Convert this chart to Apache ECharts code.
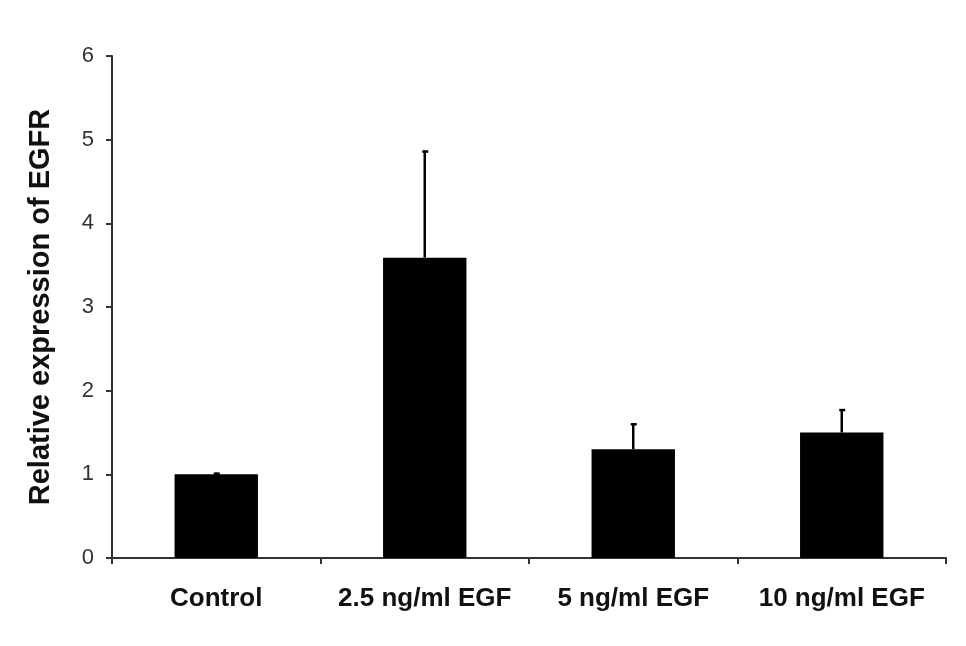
<!DOCTYPE html>
<html>
<head>
<meta charset="utf-8">
<script src="https://cdn.jsdelivr.net/npm/echarts@6/dist/echarts.min.js"></script>
<style>
html,body{margin:0;padding:0;background:#fff;}
#c{width:966px;height:646px;}
</style>
</head>
<body>
<div id="c"></div>
<script>
var categories = ['Control', '2.5 ng/ml EGF', '5 ng/ml EGF', '10 ng/ml EGF'];
var means = [1.0, 3.59, 1.3, 1.5];
var errors = [0.02, 1.28, 0.31, 0.28];
var yTicks = [0, 1, 2, 3, 4, 5, 6];

var chart = echarts.init(document.getElementById('c'), null, {renderer: 'canvas'});
var errData = categories.map(function (c, i) { return [i, means[i], means[i] + errors[i]]; });

chart.setOption({
  backgroundColor: '#ffffff',
  animation: false,
  grid: {left: 112, right: 20, top: 56, bottom: 88, containLabel: false},
  xAxis: {
    type: 'category',
    data: categories,
    boundaryGap: true,
    axisLine: {lineStyle: {color: '#333', width: 2}},
    axisTick: {show: true, length: 6, inside: false, lineStyle: {color: '#333', width: 2}},
    axisLabel: {
      color: '#111', fontFamily: 'Liberation Sans, Arial, sans-serif',
      fontWeight: 'bold', fontSize: 26, margin: 28, interval: 0
    },
    splitLine: {show: false}
  },
  yAxis: {
    type: 'value',
    min: yTicks[0], max: yTicks[yTicks.length - 1], interval: 1,
    name: 'Relative expression of EGFR',
    nameLocation: 'middle',
    nameRotate: 90,
    nameGap: 57,
    nameTextStyle: {
      color: '#111', fontFamily: 'Liberation Sans, Arial, sans-serif',
      fontWeight: 'bold', fontSize: 29
    },
    axisLine: {show: true, lineStyle: {color: '#333', width: 2}},
    axisTick: {show: true, length: 6, inside: false, lineStyle: {color: '#333', width: 2}},
    axisLabel: {
      color: '#333', fontFamily: 'Liberation Sans, Arial, sans-serif',
      fontSize: 22, margin: 18
    },
    splitLine: {show: false}
  },
  series: [
    {
      type: 'bar',
      data: means,
      barWidth: '40%',
      itemStyle: {color: '#000000'},
      z: 2
    },
    {
      type: 'custom',
      data: errData,
      z: 3,
      renderItem: function (params, api) {
        var x = api.value(0);
        var lo = api.coord([x, api.value(1)]);
        var hi = api.coord([x, api.value(2)]);
        return {
          type: 'group',
          children: [
            {type: 'line', shape: {x1: lo[0], y1: lo[1], x2: hi[0], y2: hi[1]},
             style: {stroke: '#000', lineWidth: 2.5}},
            {type: 'line', shape: {x1: hi[0] - 2.5, y1: hi[1] + 1, x2: hi[0] + 3.5, y2: hi[1] + 1},
             style: {stroke: '#000', lineWidth: 2.5}}
          ]
        };
      }
    }
  ]
});
</script>
</body>
</html>
